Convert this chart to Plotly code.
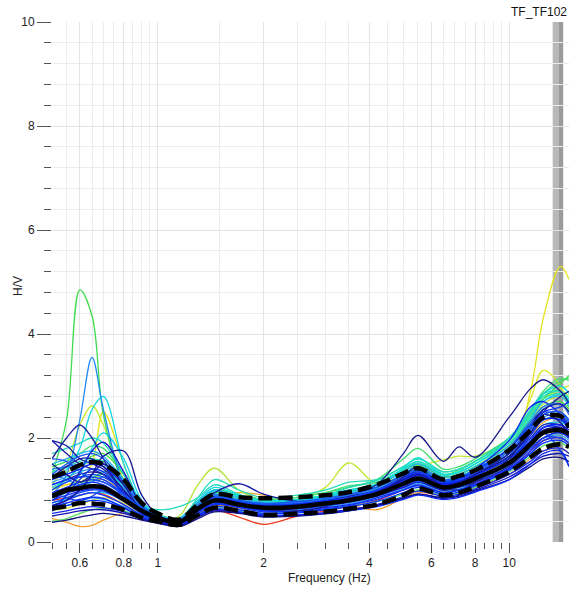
import plotly.graph_objects as go

# ---------------- data ----------------
FREQ = [0.5, 0.55, 0.6, 0.65, 0.7, 0.8, 0.9, 1.0, 1.15, 1.3, 1.45, 1.7, 2.0, 2.5, 3.0,
        3.5, 4.2, 5.0, 5.5, 6.5, 7.2, 8.0, 10, 11.5, 12.5, 14, 14.8]

MEAN_HV = [0.88, 1.0, 1.04, 1.07, 1.05, 0.82, 0.6, 0.46, 0.38, 0.64, 0.8, 0.72, 0.66, 0.68, 0.74,
           0.8, 0.92, 1.12, 1.22, 1.05, 1.1, 1.22, 1.52, 1.88, 2.1, 2.15, 2.08]
UPPER_HV = [1.25, 1.35, 1.48, 1.54, 1.5, 1.2, 0.75, 0.55, 0.43, 0.72, 0.92, 0.86, 0.84, 0.86, 0.9,
            0.96, 1.1, 1.32, 1.42, 1.2, 1.27, 1.38, 1.77, 2.15, 2.4, 2.42, 2.2]
LOWER_HV = [0.65, 0.69, 0.75, 0.74, 0.72, 0.62, 0.47, 0.4, 0.33, 0.52, 0.66, 0.6, 0.52, 0.55, 0.58,
            0.64, 0.72, 0.9, 1.03, 0.9, 0.95, 1.06, 1.35, 1.63, 1.8, 1.88, 1.83]

# individual windows (warm colours first, blues drawn last / on top)
win_r1 = [0.8, 0.85, 0.9, 0.95, 0.92, 0.72, 0.5, 0.4, 0.34, 0.55, 0.62, 0.48, 0.34, 0.5, 0.6, 0.68, 0.8, 1.0, 1.1, 0.98, 1.0, 1.12, 1.4, 1.75, 1.95, 2.0, 1.9]
win_o1 = [0.45, 0.38, 0.3, 0.32, 0.42, 0.55, 0.5, 0.42, 0.36, 0.55, 0.7, 0.65, 0.6, 0.62, 0.66, 0.7, 0.62, 0.85, 0.95, 0.9, 0.95, 1.05, 1.3, 1.6, 1.75, 1.8, 1.7]
win_o2 = [1.05, 1.1, 1.15, 1.2, 1.2, 0.95, 0.62, 0.47, 0.4, 0.66, 0.86, 0.95, 0.9, 0.75, 0.8, 0.9, 1.12, 1.2, 1.3, 1.12, 1.18, 1.32, 1.65, 2.05, 2.3, 2.4, 2.3]
win_y1 = [1.0, 1.1, 1.2, 1.5, 2.5, 1.5, 0.7, 0.48, 0.4, 0.68, 0.88, 0.8, 0.74, 0.76, 0.82, 0.9, 1.02, 1.25, 1.35, 1.15, 1.2, 1.32, 1.6, 2.9, 4.3, 5.3, 5.05]
win_y2 = [0.6, 0.65, 0.72, 0.8, 0.85, 0.75, 0.55, 0.44, 0.37, 0.6, 0.78, 0.72, 0.66, 0.68, 0.74, 0.8, 0.94, 1.15, 1.25, 1.1, 1.15, 1.3, 1.8, 2.75, 3.3, 3.0, 2.5]
win_yg1 = [1.1, 1.5, 2.25, 2.62, 2.25, 1.2, 0.65, 0.5, 0.42, 0.72, 0.95, 0.85, 0.78, 0.8, 0.88, 0.96, 1.1, 1.35, 1.48, 1.25, 1.3, 1.45, 1.9, 2.4, 2.75, 2.95, 3.0]
win_yg2 = [1.25, 1.35, 1.45, 1.55, 1.5, 1.05, 0.6, 0.45, 0.5, 1.1, 1.42, 1.0, 0.8, 0.82, 0.9, 0.98, 1.1, 1.35, 1.5, 1.25, 1.3, 1.45, 1.85, 2.35, 2.65, 2.8, 2.7]
win_yg3 = [0.9, 1.0, 1.15, 1.25, 1.25, 0.95, 0.6, 0.46, 0.4, 0.68, 0.88, 0.82, 0.78, 0.82, 1.05, 1.52, 1.12, 1.3, 1.45, 1.58, 1.65, 1.65, 1.95, 2.45, 2.75, 2.9, 2.8]
win_g1 = [1.3, 2.35, 4.85, 4.35, 2.45, 1.1, 0.62, 0.48, 0.42, 0.7, 0.92, 0.82, 0.74, 0.76, 0.82, 0.9, 1.05, 1.3, 1.42, 1.2, 1.26, 1.4, 1.8, 2.3, 2.6, 2.7, 2.55]
win_g2 = [1.0, 1.2, 1.45, 1.65, 1.7, 1.3, 0.75, 0.52, 0.44, 0.72, 0.95, 0.86, 0.78, 0.8, 0.88, 0.96, 1.1, 1.35, 1.48, 1.25, 1.3, 1.45, 1.85, 2.4, 2.75, 3.05, 3.2]
win_g3 = [0.4, 0.45, 0.55, 0.62, 0.65, 0.6, 0.48, 0.4, 0.34, 0.52, 0.66, 0.6, 0.55, 0.58, 0.62, 0.68, 0.78, 0.92, 1.0, 0.9, 0.95, 1.05, 1.35, 1.65, 1.85, 1.9, 1.8]
win_g4 = [1.45, 1.55, 1.7, 1.85, 1.8, 1.3, 0.74, 0.54, 0.45, 0.75, 1.0, 0.9, 0.82, 0.86, 0.95, 1.05, 1.2, 1.6, 1.8, 1.4, 1.45, 1.6, 2.0, 2.5, 2.85, 3.1, 3.15]
win_g5 = [0.85, 0.95, 1.1, 1.25, 1.3, 1.05, 0.66, 0.5, 0.42, 0.74, 0.98, 0.86, 0.78, 0.8, 0.9, 1.0, 1.12, 1.38, 1.52, 1.28, 1.34, 1.5, 1.95, 2.45, 2.75, 2.85, 2.65]
win_g6 = [0.7, 0.8, 1.0, 1.2, 1.35, 1.2, 0.72, 0.52, 0.44, 0.76, 1.0, 0.9, 0.82, 0.86, 0.95, 1.08, 1.15, 1.4, 1.55, 1.3, 1.38, 1.55, 1.95, 2.5, 2.9, 3.15, 3.1]
win_c1 = [1.2, 1.4, 1.8, 2.55, 2.8, 1.5, 0.75, 0.52, 0.45, 0.8, 1.05, 0.9, 0.8, 0.8, 0.88, 0.98, 1.12, 1.4, 1.55, 1.3, 1.35, 1.5, 1.95, 2.5, 2.85, 3.0, 2.85]
win_c2 = [1.7, 1.8, 1.9, 2.0, 1.9, 1.3, 0.72, 0.62, 0.68, 0.85, 1.1, 0.92, 0.8, 0.82, 0.9, 1.05, 1.18, 1.45, 1.6, 1.35, 1.4, 1.55, 2.0, 2.55, 2.85, 2.9, 2.7]
win_c3 = [0.9, 1.0, 1.3, 1.8, 2.1, 1.6, 0.8, 0.52, 0.42, 0.7, 0.92, 0.82, 0.74, 0.76, 0.84, 0.92, 1.06, 1.3, 1.45, 1.2, 1.26, 1.4, 1.8, 2.25, 2.55, 2.65, 2.5]
win_c4 = [0.75, 0.82, 0.9, 0.95, 0.95, 0.8, 0.56, 0.44, 0.38, 0.62, 0.8, 0.74, 0.68, 0.7, 0.76, 0.84, 0.96, 1.18, 1.3, 1.12, 1.16, 1.28, 1.62, 2.0, 2.25, 2.3, 2.2]
win_c5 = [1.35, 1.45, 1.55, 1.6, 1.55, 1.2, 0.7, 0.5, 0.44, 0.85, 1.2, 1.0, 0.85, 0.9, 1.0, 1.15, 1.2, 1.45, 1.6, 1.35, 1.4, 1.55, 2.0, 2.5, 2.8, 2.9, 2.75]
win_c6 = [1.05, 1.2, 1.45, 1.55, 1.45, 1.05, 0.64, 0.5, 0.46, 0.78, 0.98, 0.88, 0.8, 0.82, 0.9, 1.0, 1.1, 1.42, 1.62, 1.3, 1.35, 1.5, 1.9, 2.4, 2.7, 2.85, 2.75]
win_s1 = [0.9, 1.3, 2.35, 3.55, 2.55, 1.1, 0.6, 0.46, 0.4, 0.66, 0.85, 0.78, 0.72, 0.74, 0.8, 0.88, 1.02, 1.25, 1.38, 1.15, 1.22, 1.35, 1.7, 2.1, 2.4, 2.45, 2.3]
win_s2 = [1.5, 1.6, 1.7, 1.75, 1.65, 1.2, 0.72, 0.52, 0.44, 0.78, 1.0, 0.85, 0.76, 0.78, 0.86, 0.95, 1.1, 1.35, 1.5, 1.25, 1.3, 1.45, 1.85, 2.35, 2.7, 2.8, 2.6]
win_s3 = [1.15, 1.25, 1.35, 1.4, 1.35, 1.0, 0.66, 0.5, 0.42, 0.7, 0.9, 0.8, 0.72, 0.74, 0.82, 0.9, 1.02, 1.25, 1.38, 1.18, 1.22, 1.35, 1.7, 2.1, 2.35, 2.35, 2.2]
win_s4 = [0.65, 0.7, 0.78, 0.85, 0.82, 0.68, 0.5, 0.42, 0.36, 0.58, 0.74, 0.68, 0.6, 0.62, 0.68, 0.74, 0.86, 1.02, 1.12, 0.98, 1.02, 1.15, 1.45, 1.8, 2.0, 2.05, 1.95]
win_s5 = [1.3, 1.2, 1.1, 1.15, 1.25, 1.05, 0.66, 0.5, 0.44, 0.74, 0.92, 0.78, 0.74, 0.72, 0.78, 0.86, 0.98, 1.18, 1.3, 1.15, 1.2, 1.3, 1.65, 2.1, 2.35, 2.4, 2.25]
win_b1 = [1.1, 1.2, 1.3, 1.35, 1.3, 0.95, 0.62, 0.48, 0.4, 0.65, 0.85, 0.78, 0.7, 0.72, 0.8, 0.9, 1.1, 1.7, 2.05, 1.55, 1.83, 1.63, 2.4, 2.95, 3.12, 2.9, 2.67]
win_b2 = [1.6, 2.0, 2.25, 2.0, 1.6, 0.9, 0.55, 0.45, 0.4, 0.6, 0.72, 0.7, 0.64, 0.66, 0.7, 0.78, 0.9, 1.05, 1.15, 1.0, 1.05, 1.15, 1.45, 1.8, 2.0, 2.1, 2.0]
win_b3 = [1.95, 1.85, 1.6, 1.5, 1.4, 1.0, 0.62, 0.48, 0.42, 0.7, 0.95, 1.12, 0.92, 0.78, 0.8, 0.88, 1.0, 1.25, 1.35, 1.15, 1.2, 1.35, 1.8, 2.3, 2.5, 2.4, 2.2]
win_b4 = [0.9, 1.0, 1.1, 1.15, 1.1, 0.85, 0.6, 0.45, 0.37, 0.62, 0.8, 0.72, 0.65, 0.67, 0.72, 0.8, 0.92, 1.1, 1.2, 1.05, 1.1, 1.22, 1.5, 1.85, 2.1, 2.15, 2.05]
win_b5 = [0.7, 0.8, 0.9, 0.95, 0.9, 0.72, 0.52, 0.42, 0.35, 0.55, 0.72, 0.66, 0.58, 0.6, 0.66, 0.72, 0.82, 1.0, 1.1, 0.95, 1.0, 1.1, 1.4, 1.7, 1.95, 2.0, 1.9]
win_b6 = [1.2, 1.3, 1.4, 1.5, 1.45, 1.1, 0.7, 0.5, 0.41, 0.68, 0.86, 0.78, 0.72, 0.74, 0.8, 0.86, 1.0, 1.22, 1.32, 1.12, 1.18, 1.3, 1.65, 2.05, 2.35, 2.35, 2.2]
win_b7 = [0.55, 0.6, 0.65, 0.68, 0.66, 0.58, 0.45, 0.38, 0.32, 0.5, 0.62, 0.58, 0.5, 0.52, 0.56, 0.62, 0.7, 0.88, 0.98, 0.88, 0.92, 1.02, 1.3, 1.55, 1.75, 1.8, 1.7]
win_b8 = [0.8, 1.0, 1.35, 1.75, 1.92, 1.35, 0.7, 0.48, 0.38, 0.6, 0.78, 0.7, 0.62, 0.64, 0.7, 0.76, 0.88, 1.05, 1.15, 1.0, 1.06, 1.18, 1.5, 1.9, 2.2, 2.25, 2.1]
win_b9 = [1.95, 1.7, 1.5, 1.4, 1.3, 0.95, 0.62, 0.47, 0.4, 0.63, 0.8, 0.74, 0.68, 0.7, 0.76, 0.84, 0.98, 1.2, 1.3, 1.1, 1.15, 1.28, 1.6, 2.0, 2.25, 2.25, 2.1]
win_b10 = [1.0, 1.15, 1.25, 1.3, 1.25, 0.98, 0.65, 0.5, 0.4, 0.66, 0.84, 0.76, 0.7, 0.7, 0.76, 0.82, 0.95, 1.15, 1.25, 1.08, 1.12, 1.25, 1.55, 1.95, 2.2, 2.2, 2.05]
win_b11 = [0.75, 0.85, 0.95, 1.0, 0.98, 0.78, 0.55, 0.43, 0.36, 0.6, 0.76, 0.7, 0.64, 0.66, 0.72, 0.78, 0.9, 1.08, 1.18, 1.02, 1.08, 1.2, 1.55, 2.0, 2.1, 1.75, 1.45]
win_b12 = [0.95, 1.05, 1.15, 1.2, 1.15, 0.9, 0.6, 0.46, 0.39, 0.64, 0.82, 0.74, 0.68, 0.7, 0.76, 0.84, 0.98, 1.2, 1.3, 1.12, 1.18, 1.4, 1.95, 2.6, 2.7, 2.45, 2.25]
win_b13 = [0.85, 0.95, 1.0, 1.05, 1.0, 0.8, 0.58, 0.45, 0.38, 0.62, 0.78, 0.72, 0.66, 0.68, 0.74, 0.8, 0.94, 1.15, 1.28, 1.1, 1.15, 1.3, 1.65, 2.1, 2.5, 2.8, 2.9]
win_b14 = [0.6, 0.7, 0.75, 0.8, 0.78, 0.65, 0.48, 0.4, 0.34, 0.52, 0.68, 0.62, 0.55, 0.56, 0.62, 0.68, 0.78, 0.95, 1.05, 0.92, 0.96, 1.08, 1.38, 1.7, 1.9, 1.95, 1.85]
win_b15 = [1.3, 1.5, 1.65, 1.7, 1.6, 1.15, 0.68, 0.5, 0.4, 0.68, 0.88, 0.8, 0.72, 0.72, 0.78, 0.86, 1.0, 1.25, 1.4, 1.15, 1.2, 1.32, 1.7, 2.15, 2.45, 2.5, 2.3]
win_b16 = [0.8, 0.9, 0.98, 1.02, 1.0, 0.8, 0.58, 0.46, 0.38, 0.66, 0.84, 0.76, 0.7, 0.72, 0.78, 0.84, 0.96, 1.18, 1.28, 1.1, 1.15, 1.28, 1.6, 1.95, 2.2, 2.25, 2.15]
win_b17 = [1.4, 1.45, 1.5, 1.55, 1.5, 1.15, 0.7, 0.5, 0.42, 0.7, 0.9, 0.8, 0.74, 0.76, 0.82, 0.9, 1.05, 1.3, 1.45, 1.2, 1.25, 1.4, 1.8, 2.3, 2.6, 2.65, 2.45]
win_b18 = [0.5, 0.55, 0.6, 0.62, 0.62, 0.55, 0.44, 0.37, 0.32, 0.48, 0.6, 0.56, 0.5, 0.52, 0.56, 0.62, 0.72, 0.85, 0.92, 0.85, 0.9, 1.0, 1.25, 1.5, 1.65, 1.7, 1.65]
win_b19 = [0.38, 0.42, 0.48, 0.52, 0.55, 0.5, 0.42, 0.36, 0.3, 0.45, 0.58, 0.55, 0.48, 0.5, 0.54, 0.6, 0.7, 0.84, 0.92, 0.84, 0.88, 0.98, 1.2, 1.45, 1.6, 1.62, 1.55]
win_b20 = [1.1, 1.2, 1.25, 1.25, 1.2, 0.92, 0.62, 0.47, 0.4, 0.64, 0.82, 0.75, 0.68, 0.7, 0.76, 0.84, 0.98, 1.22, 1.35, 1.15, 1.22, 1.38, 1.8, 2.25, 2.5, 2.6, 2.7]
win_b21 = [1.5, 1.3, 1.15, 1.3, 1.5, 1.1, 0.6, 0.46, 0.39, 0.62, 0.8, 0.7, 0.62, 0.6, 0.68, 0.85, 0.88, 1.25, 1.45, 1.05, 1.0, 1.15, 1.6, 2.2, 2.45, 2.3, 2.0]
win_b22 = [0.6, 0.9, 1.2, 1.4, 1.35, 0.9, 0.55, 0.44, 0.37, 0.58, 0.74, 0.68, 0.6, 0.58, 0.64, 0.7, 0.85, 1.0, 1.08, 0.95, 1.0, 1.12, 1.42, 1.75, 2.0, 2.1, 2.0]
win_b23 = [0.95, 0.85, 0.8, 0.88, 1.0, 0.9, 0.62, 0.46, 0.38, 0.62, 0.8, 0.76, 0.72, 0.66, 0.7, 0.78, 0.9, 1.08, 1.16, 1.02, 1.06, 1.18, 1.48, 1.8, 2.0, 2.0, 1.9]
win_b24 = [1.25, 1.45, 1.6, 1.6, 1.45, 1.0, 0.6, 0.47, 0.4, 0.62, 0.78, 0.72, 0.66, 0.7, 0.72, 0.8, 0.96, 1.2, 1.3, 1.08, 1.14, 1.3, 1.7, 2.2, 2.55, 2.65, 2.5]
win_b25 = [0.68, 0.75, 0.82, 0.86, 0.84, 0.66, 0.48, 0.4, 0.33, 0.5, 0.64, 0.58, 0.52, 0.52, 0.55, 0.6, 0.68, 0.82, 0.9, 0.82, 0.86, 0.96, 1.2, 1.5, 1.7, 1.75, 1.45]
win_b26 = [1.6, 1.55, 1.35, 1.2, 1.15, 0.92, 0.64, 0.5, 0.42, 0.66, 0.85, 0.8, 0.74, 0.78, 0.84, 0.92, 1.05, 1.28, 1.38, 1.18, 1.24, 1.36, 1.75, 2.2, 2.45, 2.5, 2.35]
win_b27 = [0.7, 0.8, 1.0, 1.3, 1.65, 1.75, 0.9, 0.52, 0.4, 0.6, 0.78, 0.72, 0.66, 0.68, 0.72, 0.8, 0.92, 1.12, 1.22, 1.05, 1.1, 1.22, 1.55, 1.9, 2.15, 2.2, 2.1]

WINDOWS = [win_r1, win_o1, win_o2, win_y1, win_y2, win_yg1, win_yg2, win_yg3,
           win_g1, win_g2, win_g3, win_g4, win_g5, win_g6,
           win_c1, win_c2, win_c3, win_c4, win_c5, win_c6,
           win_s1, win_s2, win_s3, win_s4, win_s5,
           win_b1, win_b2, win_b3, win_b4, win_b5, win_b6, win_b7, win_b8, win_b9, win_b10,
           win_b11, win_b12, win_b13, win_b14, win_b15, win_b16, win_b17, win_b18, win_b19, win_b20,
           win_b21, win_b22, win_b23, win_b24, win_b25, win_b26, win_b27]
WIN_COLORS = ["#ee3a20", "#f0a030", "#f0a830", "#e4e41c", "#dcea24", "#c8e830", "#b4e438", "#c0e834",
              "#40dc50", "#48e048", "#58e060", "#3cdc68", "#30e0a0", "#44e070",
              "#10d8e0", "#20d8c0", "#18d0e8", "#10c8e8", "#28dcb8", "#14e0d8",
              "#1e8cf0", "#20b4f0", "#2a9cf0", "#28a8f0", "#2096f0",
              "#1a1a8a", "#20209a", "#1818a0", "#0a2aff", "#1030f8", "#0020ff", "#1428e8", "#1010c8",
              "#2020b0", "#0a3cff", "#1446f0", "#0a20f0", "#161690", "#0030ff", "#1a50f0", "#0828ff",
              "#2070f0", "#1414b4", "#101080", "#0c34ff",
              "#181890", "#0a30ff", "#1844f0", "#1a1aa0", "#0a28f8", "#1258f0", "#14149a"]

X_MAJOR = [0.6, 0.8, 1, 2, 4, 6, 8, 10]
X_MAJOR_TEXT = ["0.6", "0.8", "1", "2", "4", "6", "8", "10"]
X_MINOR = [0.5, 0.55, 0.65, 0.7, 0.75, 0.85, 0.9, 0.95, 1.5, 2.5, 3, 3.5, 4.5, 5, 5.5,
           6.5, 7, 7.5, 8.5, 9, 9.5]
BAND = [13.3, 13.8, 14.25]
TITLE = "TF_TF102"

# ---------------- figure ----------------
fig = go.Figure()
for ys, col in zip(WINDOWS, WIN_COLORS):
    fig.add_trace(go.Scatter(x=FREQ, y=ys, mode="lines",
                             line=dict(color=col, width=1.3, shape="spline", smoothing=1.0),
                             hoverinfo="skip", showlegend=False))

fig.add_trace(go.Scatter(x=FREQ, y=MEAN_HV, mode="lines",
                         line=dict(color="black", width=4.5, shape="spline"), showlegend=False))
for ys in (UPPER_HV, LOWER_HV):
    fig.add_trace(go.Scatter(x=FREQ, y=ys, mode="lines",
                             line=dict(color="black", width=4.5, shape="spline", dash="14px,6px"),
                             showlegend=False))

fig.add_shape(type="rect", xref="x", yref="paper", x0=BAND[0], x1=BAND[1], y0=0, y1=1,
              fillcolor="#b8b8b8", line=dict(width=0), layer="below")
fig.add_shape(type="rect", xref="x", yref="paper", x0=BAND[1], x1=BAND[2], y0=0, y1=1,
              fillcolor="#9c9c9c", line=dict(width=0), layer="below")

FONT = "Liberation Sans"
fig.update_layout(
    width=570, height=589,
    margin=dict(l=52, r=1, t=22, b=47),
    paper_bgcolor="white", plot_bgcolor="white",
    font=dict(family=FONT, size=12, color="#222"),
    showlegend=False,
    xaxis=dict(type="log", range=[-0.30103, 1.17026], showline=False, zeroline=False,
               tickmode="array", tickvals=X_MAJOR, ticktext=X_MAJOR_TEXT,
               ticks="outside", ticklen=10, tickcolor="#555", tickwidth=1,
               showgrid=True, gridcolor="#e4e4e4", gridwidth=1,
               tickfont=dict(family=FONT, size=12, color="#222"),
               minor=dict(tickmode="array", tickvals=X_MINOR, ticks="outside", ticklen=6,
                          tickcolor="#555", showgrid=True, gridcolor="#ececec")),
    yaxis=dict(range=[0, 10], showline=False, zeroline=False,
               tickmode="linear", tick0=0, dtick=2,
               ticks="outside", ticklen=14, tickcolor="#555", tickwidth=1,
               showgrid=True, gridcolor="#e4e4e4", gridwidth=1,
               tickfont=dict(family=FONT, size=12, color="#222"),
               minor=dict(dtick=0.4, tick0=0, ticks="outside", ticklen=7, tickcolor="#555",
                          showgrid=True, gridcolor="#ececec")),
    annotations=[
        dict(text=TITLE, xref="paper", yref="paper", x=1.0, y=1.0, xanchor="right",
             yanchor="bottom", yshift=1, showarrow=False, font=dict(family=FONT, size=12, color="#111")),
        dict(text="Frequency (Hz)", xref="paper", yref="paper", x=0.536, y=-0.069,
             xanchor="center", yanchor="middle", showarrow=False,
             font=dict(family=FONT, size=12, color="#222")),
        dict(text="H/V", xref="paper", yref="paper", x=-0.066, y=0.492, textangle=-90,
             xanchor="center", yanchor="middle", showarrow=False,
             font=dict(family=FONT, size=12, color="#222")),
    ],
)

fig.write_html("out.html")
